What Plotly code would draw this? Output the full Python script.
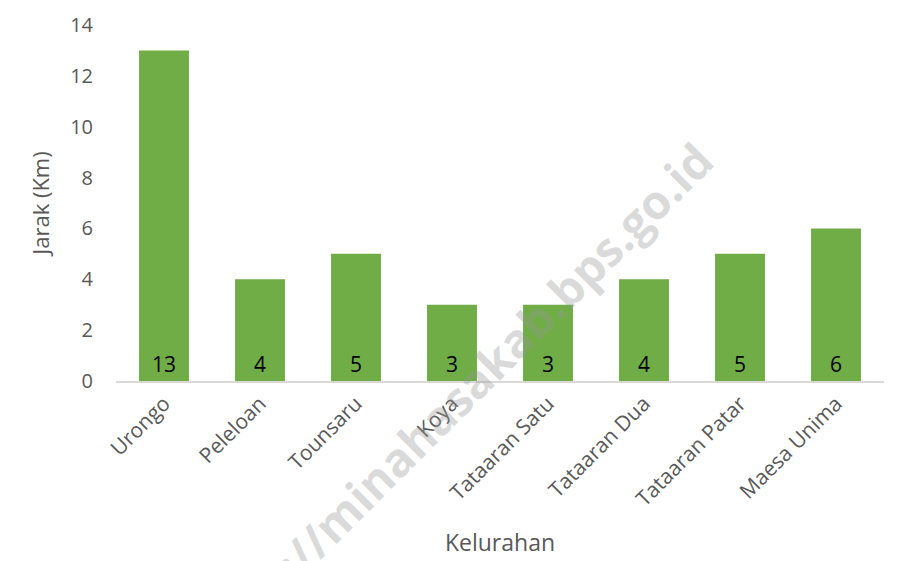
import plotly.graph_objects as go

kelurahan = ["Urongo", "Peleloan", "Tounsaru", "Koya", "Tataaran Satu",
             "Tataaran Dua", "Tataaran Patar", "Maesa Unima"]
jarak = [13, 4, 5, 3, 3, 4, 5, 6]
y_ticks = [0, 2, 4, 6, 8, 10, 12, 14]

FONT = "Open Sans"
GRAY = "#595959"

# page body has an 8px margin; figure is sized/positioned to compensate
W, H = 889, 553
L, T, PW, PH = 108, 17, 768, 356

fig = go.Figure()
fig.add_trace(go.Bar(
    x=kelurahan, y=jarak,
    marker=dict(color="#70AD47", line=dict(width=0)),
    text=[str(v) for v in jarak],
    textposition="inside", insidetextanchor="start",
    textangle=0,
    textfont=dict(family=FONT, size=21, color="black"),
    hoverinfo="x+y",
))

fig.update_layout(
    width=W, height=H,
    margin=dict(l=L, r=W - L - PW, t=T, b=H - T - PH, autoexpand=False),
    paper_bgcolor="white", plot_bgcolor="white",
    bargap=0.48,
    showlegend=False,
    font=dict(family=FONT, color=GRAY),
    xaxis=dict(
        tickangle=-45, tickfont=dict(family=FONT, size=21, color=GRAY),
        showline=True, linecolor="#d9d9d9", linewidth=2,
        showgrid=False, ticks="",
        title=dict(text="Kelurahan", font=dict(family=FONT, size=23, color=GRAY), standoff=24),
    ),
    yaxis=dict(
        range=[0, 14], tickvals=y_ticks,
        tickfont=dict(family=FONT, size=20, color=GRAY),
        showgrid=False, zeroline=False, showline=False, ticks="",
        ticklabelstandoff=22,
        title=dict(text="Jarak (Km)", font=dict(family=FONT, size=22, color=GRAY), standoff=14),
    ),
    shapes=[dict(type="line", xref="paper", yref="paper",
                 x0=(-3 - L) / PW, x1=(-3 - L) / PW,
                 y0=(T + PH - 544) / PH, y1=(T + PH + 8) / PH,
                 line=dict(color="#d9d9d9", width=1))],
    annotations=[dict(
        text="<b>https://minahasakab.bps.go.id</b>",
        xref="paper", yref="paper",
        x=(442 - L) / PW, y=(T + PH - 397) / PH,
        xanchor="center", yanchor="middle",
        showarrow=False, textangle=-45,
        font=dict(family=FONT, size=47, color="rgba(150,150,150,0.34)"),
    )],
)

fig.write_html("out.html")
